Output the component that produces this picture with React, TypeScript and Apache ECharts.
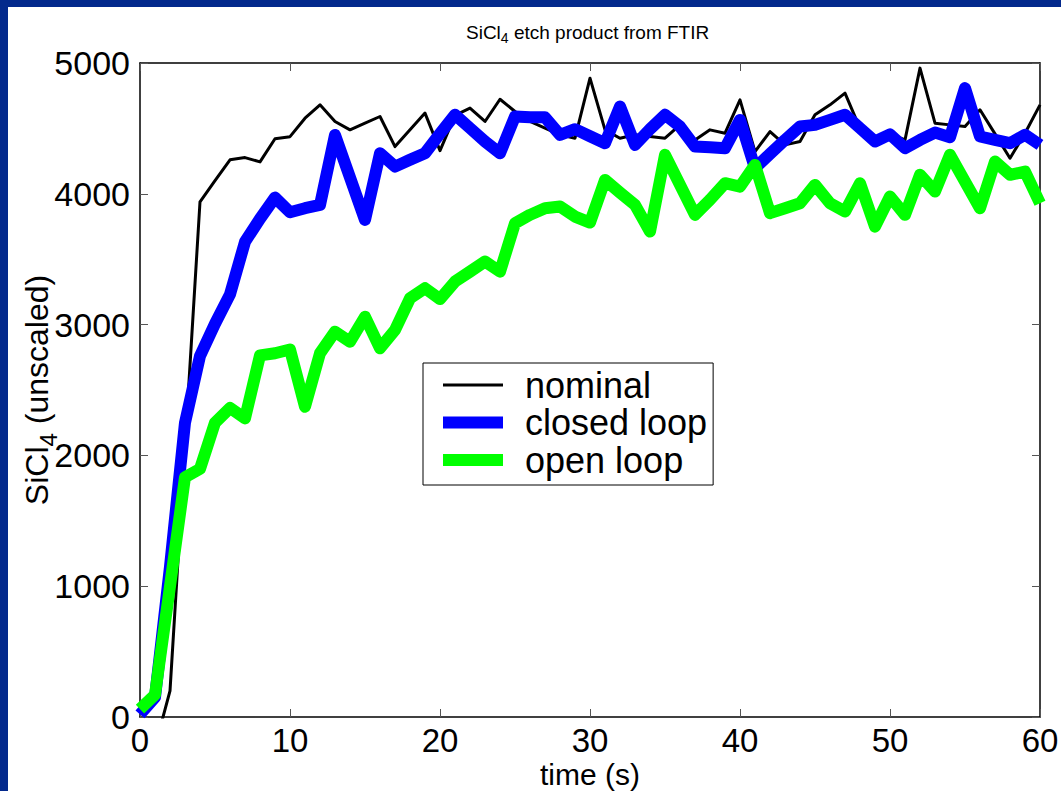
import React, { useEffect, useRef } from "react";
import * as echarts from "echarts";

const times = [
  0, 1, 2, 3, 4, 5, 6, 7, 8, 9, 10, 11, 12, 13, 14, 15, 16, 17, 18, 19, 20,
  21, 22, 23, 24, 25, 26, 27, 28, 29, 30, 31, 32, 33, 34, 35, 36, 37, 38, 39, 40,
  41, 42, 43, 44, 45, 46, 47, 48, 49, 50, 51, 52, 53, 54, 55, 56, 57, 58, 59, 60,
];

const nominal = [
  -230, -230, 200, 2065, 3939, 4100, 4260, 4277, 4244, 4421, 4437,
  4578, 4680, 4553, 4489, 4540, 4591, 4361, 4489, 4617, 4330,
  4600, 4655, 4553, 4723, 4629, 4553, 4502, 4451, 4425, 4884,
  4489, 4425, 4451, 4438, 4425, 4527, 4412, 4489, 4463, 4718,
  4323, 4476, 4374, 4400, 4604, 4680, 4770, 4500, 4420, 4460,
  4412, 4961, 4540, 4527, 4514, 4642, 4458, 4272, 4463, 4680,
];

const closedLoop = [
  20, 150, 1150, 2250, 2760, 3006, 3231, 3633, 3810, 3971, 3859,
  3890, 3915, 4450, 4125, 3800, 4310, 4208, 4260, 4310, 4460,
  4604, 4502, 4400, 4310, 4591, 4585, 4585, 4451, 4494, 4440,
  4387, 4667, 4374, 4494, 4604, 4514, 4361, 4356, 4348, 4565,
  4196, 4305, 4412, 4514, 4527, 4565, 4604, 4502, 4400, 4455,
  4349, 4412, 4468, 4433, 4808, 4438, 4412, 4387, 4451, 4374,
];

const openLoop = [
  60, 170, 1000, 1833, 1897, 2250, 2363, 2283, 2765, 2781, 2810,
  2372, 2781, 2946, 2869, 3060, 2819, 2959, 3201, 3278, 3195,
  3329, 3405, 3482, 3405, 3775, 3839, 3890, 3903, 3826, 3780,
  4106, 4009, 3915, 3711, 4298, 4068, 3839, 3954, 4081, 4055,
  4221, 3852, 3890, 3928, 4068, 3928, 3864, 4081, 3749, 3979,
  3839, 4145, 4017, 4298, 4093, 3890, 4247, 4145, 4170, 3928,
];

const seriesNames = ["nominal", "closed loop", "open loop"];
const xTicks = { min: 0, max: 60, interval: 10 };
const yTicks = { min: 0, max: 5000, interval: 1000 };

const FONT = "'Liberation Sans', Arial, Helvetica, sans-serif";

export default function App() {
  const ref = useRef<HTMLDivElement>(null);

  useEffect(() => {
    if (!ref.current) return;
    const chart = echarts.init(ref.current, undefined, { renderer: "svg" });
    const pairs = (arr: number[]) => times.map((t, i) => [t, arr[i]]);

    const tickStyle = { show: true, inside: true, length: 8, lineStyle: { color: "#555", width: 1 } };
    const axisLine = { show: true, onZero: false, lineStyle: { color: "#000", width: 1.5 } };
    const plain = (v: number) => String(v);

    chart.setOption({
      animation: false,
      backgroundColor: "#ffffff",
      textStyle: { fontFamily: FONT },
      title: {
        text: "{a|SiCl}{s|4}{a| etch product from FTIR}",
        left: 461,
        top: 14,
        textStyle: {
          fontWeight: "normal",
          rich: {
            a: { fontSize: 19, color: "#000", fontFamily: FONT, fontWeight: "normal" },
            s: { fontSize: 14, color: "#000", fontFamily: FONT, fontWeight: "normal", padding: [12, 0, 0, 0] },
          },
        },
      },
      graphic: [
        { type: "rect", shape: { x: 0, y: 0, width: 1061, height: 7 }, style: { fill: "#03298c" }, silent: true },
        { type: "rect", shape: { x: 0, y: 0, width: 8, height: 791 }, style: { fill: "#03298c" }, silent: true },
      ],
      grid: { left: 140, right: 21, top: 63, height: 654, containLabel: false, outerBoundsMode: "none" },
      legend: {
        orient: "vertical",
        left: 423,
        top: 363,
        backgroundColor: "#ffffff",
        borderColor: "#000",
        borderWidth: 1,
        borderRadius: 0,
        padding: [4, 6, 7, 20],
        itemWidth: 60,
        itemHeight: 12,
        itemGap: 1.5,
        symbolKeepAspect: true,
        itemStyle: { borderWidth: 0 },
        textStyle: { fontSize: 36, color: "#000", fontFamily: FONT, lineHeight: 35, padding: [0, 0, 0, 17] },
        data: [
          { name: seriesNames[0], icon: "path://M0,0H60V3H0Z" },
          { name: seriesNames[1], icon: "rect" },
          { name: seriesNames[2], icon: "rect" },
        ],
      },
      xAxis: [
        {
          type: "value",
          ...xTicks,
          position: "bottom",
          name: "time (s)",
          nameLocation: "middle",
          nameGap: 42,
          nameMoveOverlap: false,
          nameTextStyle: { fontSize: 30, color: "#000", fontFamily: FONT, lineHeight: 30 },
          axisLine,
          axisTick: tickStyle,
          axisLabel: { fontSize: 33, color: "#000", margin: 7, lineHeight: 33, fontFamily: FONT, formatter: plain },
          splitLine: { show: false },
        },
        {
          type: "value",
          ...xTicks,
          position: "top",
          axisLine,
          axisTick: tickStyle,
          axisLabel: { show: false },
          splitLine: { show: false },
        },
      ],
      yAxis: [
        {
          type: "value",
          ...yTicks,
          position: "left",
          name: "{a|SiCl}{s|4}{a| (unscaled)}",
          nameLocation: "middle",
          nameRotate: 90,
          nameGap: 80,
          nameMoveOverlap: false,
          nameTextStyle: {
            color: "#000",
            rich: {
              a: { fontSize: 32, color: "#000", fontFamily: FONT },
              s: { fontSize: 24, color: "#000", fontFamily: FONT, padding: [22, 0, 0, 0] },
            },
          },
          axisLine,
          axisTick: tickStyle,
          axisLabel: { fontSize: 34, color: "#000", margin: 10, fontFamily: FONT, formatter: plain },
          splitLine: { show: false },
        },
        {
          type: "value",
          ...yTicks,
          position: "right",
          axisLine,
          axisTick: tickStyle,
          axisLabel: { show: false },
          splitLine: { show: false },
        },
      ],
      series: [
        {
          name: seriesNames[0],
          type: "line",
          data: pairs(nominal),
          showSymbol: false,
          clip: true,
          color: "#000000",
          lineStyle: { color: "#000000", width: 3, join: "round" },
          z: 2,
        },
        {
          name: seriesNames[1],
          type: "line",
          data: pairs(closedLoop),
          showSymbol: false,
          clip: true,
          color: "#0000ff",
          lineStyle: { color: "#0000ff", width: 12, join: "round" },
          z: 3,
        },
        {
          name: seriesNames[2],
          type: "line",
          data: pairs(openLoop),
          showSymbol: false,
          clip: true,
          color: "#00ff00",
          lineStyle: { color: "#00ff00", width: 12, join: "round" },
          z: 4,
        },
      ],
    });
    return () => chart.dispose();
  }, []);

  return (
    <div
      ref={ref}
      style={{ position: "absolute", left: 0, top: 0, width: 1061, height: 791, background: "#fff" }}
    />
  );
}
